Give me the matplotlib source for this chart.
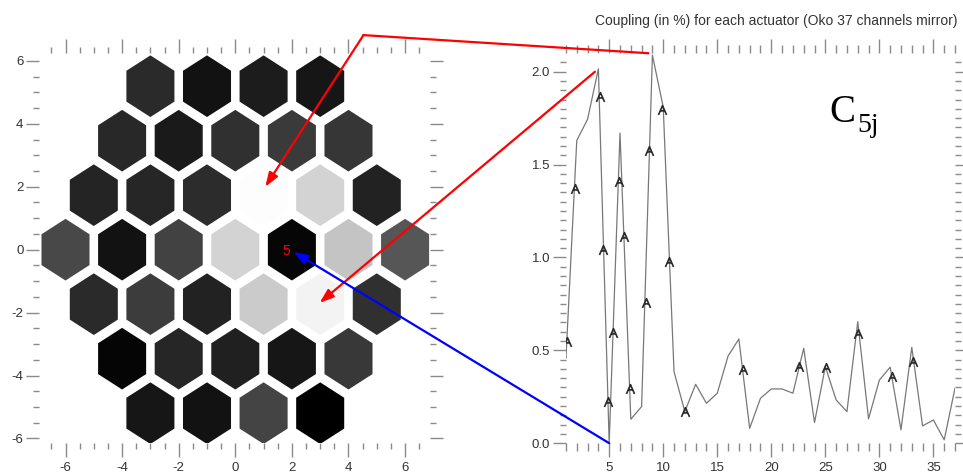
import numpy as np
import matplotlib
matplotlib.use('Agg')
import matplotlib.pyplot as plt
from matplotlib.patches import RegularPolygon, FancyArrowPatch
from matplotlib.collections import PatchCollection
from matplotlib.lines import Line2D
from matplotlib.path import Path

plt.rcParams['font.family'] = ['Liberation Sans', 'DejaVu Sans']
plt.rcParams['axes.unicode_minus'] = False

# coupling of actuator 5 with actuator j (in %)
actuator = np.arange(1, 38)
coupling = [0.457, 1.63, 1.744, 2.016, 0.0, 1.67, 0.129, 0.197, 2.09, 1.81,
            0.385, 0.17, 0.317, 0.215, 0.269, 0.469, 0.561, 0.08, 0.242, 0.292,
            0.292, 0.269, 0.511, 0.111, 0.412, 0.233, 0.17, 0.654, 0.131, 0.34,
            0.409, 0.072, 0.516, 0.093, 0.125, 0.018, 0.296]

# direction marks along the curve
arrow_x = [1.11, 1.82, 4.14, 4.44, 4.91, 5.37, 5.9, 6.36, 6.92, 8.37,
           8.70, 9.85, 10.56, 12.0, 17.35, 22.56, 25.04, 28.06, 31.2, 33.15]
arrow_y = [0.546, 1.367, 1.863, 1.039, 0.224, 0.591, 1.406, 1.112, 0.29, 0.756,
           1.573, 1.792, 0.976, 0.167, 0.394, 0.412, 0.403, 0.588, 0.355, 0.435]

# hex map of the mirror: gray level (0-255) for each hexagon, row by row (top to bottom)
row_counts = [4, 5, 6, 7, 6, 5, 4]
hex_gray = [
    [42, 18, 28, 22],
    [40, 26, 48, 58, 54],
    [36, 38, 44, 253, 211, 34],
    [72, 18, 66, 211, 6, 196, 86],
    [42, 60, 34, 203, 243, 48],
    [5, 38, 32, 22, 56],
    [22, 18, 68, 0],
]

fig = plt.figure(figsize=(9.63, 4.75), dpi=100)
ax1 = fig.add_axes([0.041, 0.067, 0.4055, 0.821])
ax2 = fig.add_axes([0.5877, 0.067, 0.404, 0.821])

tick_col = '#8a8a8a'
lab_col = '#333333'

# ---- left: hexagon map
patches = []
grays = []
for r, n in enumerate(row_counts):
    yc = (3 - r) * np.sqrt(3)
    for k in range(n):
        xc = -(n - 1) + 2 * k
        patches.append(RegularPolygon((xc, yc), numVertices=6, radius=0.98))
        grays.append(hex_gray[r][k])
pc = PatchCollection(patches, cmap='gray', edgecolor='none')
pc.set_array(np.array(grays, dtype=float))
pc.set_clim(0, 255)
ax1.add_collection(pc)
ax1.text(1.8, -0.05, '5', color='red', fontsize=10, ha='center', va='center')

ax1.set_xlim(-6.92, 6.88)
ax1.set_ylim(-6.15, 6.245)
ax1.set_xticks(np.arange(-6, 7, 2))
ax1.set_yticks(np.arange(-6, 7, 2))
ax1.set_xticks(np.arange(-6.5, 7, 0.5), minor=True)
ax1.set_yticks(np.arange(-6, 6.5, 0.5), minor=True)

# ---- right: coupling curve
ax2.plot(actuator, coupling, color='#787878', lw=0.9)
chev = Path([(-0.5, -0.55), (0, 0.6), (0.5, -0.55), (-0.28, -0.05), (0.28, -0.05)],
            [Path.MOVETO, Path.LINETO, Path.LINETO, Path.MOVETO, Path.LINETO])
ax2.plot(arrow_x, arrow_y, ls='none', marker=chev, ms=7, mec='#2a2a2a',
         mfc='none', mew=1.2)
ax2.set_xlim(1, 37)
ax2.set_ylim(0, 2.1)
ax2.set_xticks(np.arange(5, 36, 5))
ax2.set_xticks(np.arange(1, 38, 1), minor=True)
ax2.set_yticks(np.arange(0, 2.01, 0.5))
ax2.set_yticks(np.arange(0, 2.1, 0.05), minor=True)
ax2.yaxis.set_major_formatter(matplotlib.ticker.FormatStrFormatter('%.1f'))

for ax in (ax1, ax2):
    for s in ax.spines.values():
        s.set_visible(False)
    ax.tick_params(which='both', direction='out', color=tick_col, width=1.0,
                   top=True, right=True, labelsize=9.5, labelcolor=lab_col)
    ax.tick_params(axis='x', which='major', length=10)
    ax.tick_params(axis='x', which='minor', length=5)
    ax.tick_params(axis='y', which='major', length=9.5, pad=2)
    ax.tick_params(axis='y', which='minor', length=4)

ax1.tick_params(axis='x', which='minor', length=4)
ax2.tick_params(axis='x', which='minor', length=6)

fig.text(595 / 963, 1 - 20.7 / 475, 'Coupling (in %) for each actuator (Oko 37 channels mirror)',
         fontsize=10, color=lab_col, ha='left', va='center')
fig.text(829 / 963, 1 - 121.7 / 475, 'C', family='Liberation Serif', fontsize=28,
         ha='left', va='baseline')
fig.text(857 / 963, 1 - 131.7 / 475, '5j', family='Liberation Serif', fontsize=20,
         ha='left', va='baseline')


# ---- annotation arrows linking the curve and the map
def fxy(ax, x, y):
    return fig.transFigure.inverted().transform(ax.transData.transform((x, y)))


p0 = fxy(ax2, 8.6, 2.1)
p1 = fxy(ax1, 4.53, 6.82)
p2 = fxy(ax1, 1.06, 2.0)
fig.add_artist(Line2D([p0[0], p1[0]], [p0[1], p1[1]], color='red', lw=1.6,
                      transform=fig.transFigure))
for a, b, c in [(p1, p2, 'red'),
                (fxy(ax2, 3.68, 2.0), fxy(ax1, 2.98, -1.69), 'red'),
                (fxy(ax2, 5.0, 0.0), fxy(ax1, 2.06, -0.07), 'blue')]:
    fig.add_artist(FancyArrowPatch(a, b, transform=fig.transFigure,
                                   arrowstyle='-|>,head_length=0.7,head_width=0.25',
                                   mutation_scale=12, color=c, lw=1.6,
                                   shrinkA=0, shrinkB=0))

fig.savefig('out.png', dpi=100)
